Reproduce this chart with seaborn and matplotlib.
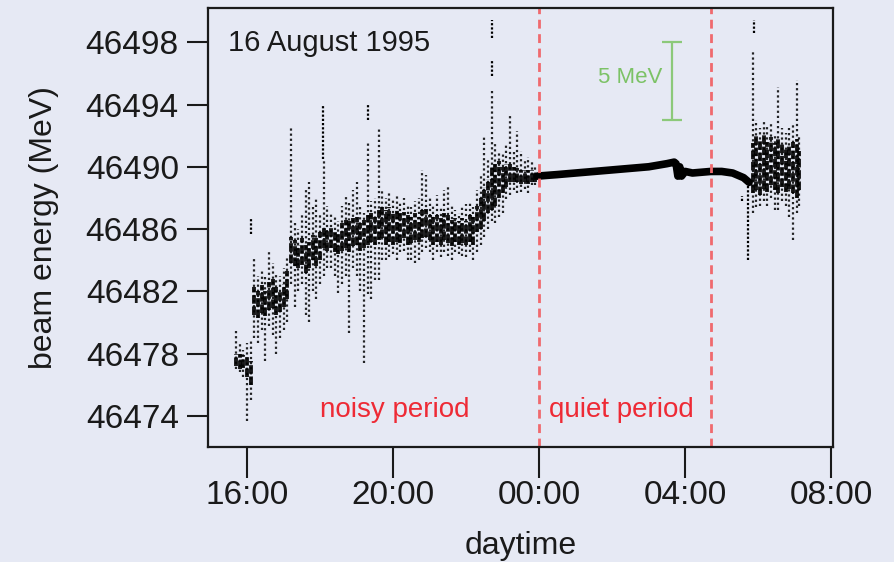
import matplotlib
matplotlib.use("Agg")
import matplotlib.pyplot as plt
import pandas as pd
import seaborn as sns

# LEP beam energy record, 16-17 August 1995.
# Time in hours from midnight of 16 August (24+ = next morning).
# Each row of the noisy stretches: (time, dense core low, dense core high,
#                                   full spread low, full spread high) in MeV
start_cluster = [
    (15.70, 46477.2, 46478.0, 46477.0, 46479.6),
    (15.80, 46477.0, 46478.0, 46476.8, 46478.6),
    (15.90, 46477.1, 46477.9, 46476.5, 46478.2),
    (16.00, 46476.5, 46477.8, 46473.7, 46478.7),
    (16.10, 46476.0, 46477.5, 46475.0, 46478.8),
]
second_cluster = [
    (16.20, 46480.5, 46482.3, 46479.0, 46484.2),
    (16.30, 46480.3, 46482.0, 46478.7, 46483.0),
    (16.40, 46480.6, 46482.4, 46479.5, 46483.4),
    (16.50, 46480.4, 46482.0, 46477.5, 46483.0),
    (16.60, 46480.8, 46482.6, 46479.8, 46484.5),
    (16.70, 46480.9, 46482.8, 46479.2, 46483.8),
    (16.80, 46480.5, 46482.3, 46478.0, 46483.2),
    (16.90, 46480.7, 46482.0, 46479.0, 46483.0),
    (17.00, 46481.0, 46482.5, 46479.5, 46483.5),
    (17.10, 46481.5, 46483.3, 46480.0, 46484.2),
]
third_cluster = [
    (17.20, 46483.8, 46485.5, 46482.5, 46492.5),
    (17.30, 46483.6, 46485.3, 46481.0, 46486.5),
    (17.40, 46483.5, 46485.0, 46482.0, 46486.0),
    (17.50, 46483.7, 46485.4, 46482.5, 46487.0),
    (17.60, 46483.2, 46485.0, 46480.5, 46488.5),
    (17.70, 46483.5, 46485.2, 46480.0, 46489.0),
    (17.80, 46484.0, 46485.6, 46482.0, 46487.5),
    (17.90, 46483.6, 46485.4, 46481.5, 46488.0),
    (18.00, 46484.0, 46485.8, 46482.5, 46487.0),
]
evening_plateau = [
    (18.10, 46484.8, 46486.2, 46483.0, 46490.5),
    (18.20, 46484.6, 46486.0, 46483.5, 46487.5),
    (18.30, 46484.8, 46486.2, 46483.5, 46487.0),
    (18.40, 46484.5, 46485.9, 46483.0, 46486.8),
    (18.50, 46484.4, 46485.8, 46481.9, 46486.5),
    (18.60, 46484.6, 46486.4, 46482.5, 46487.5),
    (18.70, 46484.8, 46486.6, 46483.0, 46488.1),
    (18.80, 46484.5, 46486.5, 46479.3, 46487.8),
    (18.90, 46484.9, 46486.7, 46483.5, 46488.5),
    (19.00, 46485.0, 46486.8, 46483.0, 46489.0),
    (19.10, 46484.6, 46486.4, 46482.0, 46487.5),
    (19.20, 46484.8, 46486.6, 46477.4, 46487.0),
    (19.30, 46485.0, 46486.9, 46481.8, 46491.5),
    (19.40, 46485.2, 46487.0, 46481.5, 46487.8),
    (19.50, 46485.0, 46486.8, 46482.7, 46488.0),
    (19.60, 46485.3, 46487.2, 46482.7, 46492.5),
    (19.70, 46485.4, 46487.4, 46484.0, 46488.5),
    (19.80, 46485.0, 46487.2, 46484.0, 46488.0),
    (19.90, 46485.2, 46487.4, 46484.2, 46488.3),
    (20.00, 46485.0, 46487.0, 46484.4, 46488.0),
    (20.10, 46485.2, 46487.3, 46484.0, 46488.2),
    (20.20, 46485.1, 46487.0, 46484.5, 46487.8),
    (20.30, 46485.4, 46487.1, 46484.6, 46488.0),
    (20.40, 46485.0, 46486.9, 46484.0, 46487.6),
    (20.50, 46485.1, 46486.8, 46484.0, 46487.4),
    (20.60, 46485.3, 46487.0, 46483.8, 46487.8),
    (20.70, 46485.2, 46486.8, 46484.0, 46488.0),
    (20.80, 46485.4, 46487.2, 46484.5, 46489.8),
    (20.90, 46485.5, 46487.3, 46484.8, 46489.5),
    (21.00, 46485.3, 46486.9, 46484.5, 46488.0),
]
late_plateau = [
    (21.10, 46485.0, 46486.8, 46484.0, 46487.5),
    (21.20, 46485.2, 46486.9, 46484.5, 46488.2),
    (21.30, 46485.0, 46486.7, 46484.2, 46487.5),
    (21.40, 46485.3, 46487.0, 46484.5, 46488.5),
    (21.50, 46485.1, 46486.9, 46484.3, 46488.7),
    (21.60, 46484.9, 46486.6, 46484.0, 46487.6),
    (21.70, 46485.2, 46486.7, 46484.5, 46487.2),
    (21.80, 46485.0, 46486.5, 46484.4, 46487.0),
    (21.90, 46485.1, 46486.7, 46484.3, 46487.5),
    (22.00, 46485.0, 46486.5, 46484.2, 46487.6),
    (22.10, 46485.2, 46486.9, 46484.5, 46487.8),
    (22.20, 46485.0, 46486.8, 46484.0, 46487.4),
]
night_rise = [
    (22.30, 46485.8, 46487.5, 46484.5, 46488.5),
    (22.40, 46486.0, 46488.0, 46485.0, 46489.5),
    (22.50, 46486.5, 46488.7, 46485.5, 46491.9),
    (22.60, 46487.0, 46489.2, 46486.0, 46490.5),
    (22.70, 46487.2, 46490.0, 46486.5, 46494.9),
    (22.80, 46487.5, 46490.2, 46486.4, 46491.5),
    (22.90, 46488.0, 46490.4, 46486.8, 46491.0),
    (23.00, 46488.3, 46490.0, 46487.0, 46490.8),
    (23.10, 46488.7, 46490.2, 46487.9, 46491.5),
    (23.20, 46489.0, 46490.2, 46488.2, 46493.4),
    (23.30, 46489.0, 46490.0, 46488.5, 46491.0),
    (23.40, 46489.0, 46489.9, 46488.3, 46492.3),
    (23.50, 46488.9, 46489.8, 46488.4, 46491.0),
    (23.60, 46489.0, 46489.8, 46488.6, 46490.5),
    (23.70, 46488.9, 46489.8, 46488.3, 46490.6),
    (23.80, 46489.0, 46489.8, 46488.8, 46490.4),
    (23.90, 46489.0, 46489.7, 46488.8, 46490.0),
]
morning_noise = [
    (29.85, 46488.3, 46491.5, 46487.0, 46497.5),
    (29.95, 46488.5, 46492.0, 46487.4, 46493.0),
    (30.05, 46488.2, 46491.8, 46487.5, 46492.5),
    (30.15, 46488.6, 46492.2, 46487.8, 46493.0),
    (30.25, 46488.4, 46491.6, 46487.5, 46492.6),
    (30.35, 46488.8, 46491.9, 46488.0, 46492.8),
    (30.45, 46488.5, 46491.5, 46487.2, 46492.0),
    (30.55, 46488.3, 46491.8, 46487.2, 46495.1),
    (30.65, 46488.7, 46491.5, 46487.8, 46492.5),
    (30.75, 46488.4, 46491.2, 46487.5, 46492.2),
    (30.85, 46488.6, 46491.4, 46486.8, 46492.5),
    (30.95, 46488.3, 46491.6, 46485.3, 46492.8),
    (31.05, 46488.0, 46491.8, 46487.0, 46495.6),
    (31.12, 46488.5, 46491.0, 46487.5, 46492.0),
]

# isolated excursions detached from the main band: (time, low, high)
excursions = [
    (16.12, 46485.7, 46486.7),
    (18.08, 46490.5, 46494.0),
    (19.30, 46493.0, 46494.0),
    (22.70, 46495.8, 46496.8),
    (22.70, 46498.3, 46499.4),
    (29.55, 46487.8, 46488.1),
    (29.72, 46484.0, 46489.0),
    (29.88, 46498.6, 46499.4),
]

# steady running between the two checks
quiet_time = [23.95, 24.5, 25.0, 25.5, 26.0, 26.5, 27.0, 27.5, 27.7,
              27.75, 27.8, 27.85, 27.9, 28.0, 28.2, 28.7, 29.0, 29.3,
              29.6, 29.75]
quiet_energy = [46489.4, 46489.5, 46489.6, 46489.7, 46489.8, 46489.9,
                46490.0, 46490.2, 46490.3, 46490.2, 46489.4, 46490.0,
                46489.4, 46489.7, 46489.6, 46489.7, 46489.7, 46489.6,
                46489.3, 46489.0]

period_marks = [24.0, 28.71]
x_ticks = [16, 20, 24, 28, 32]
x_tick_labels = ["16:00", "20:00", "00:00", "04:00", "08:00"]
y_ticks = [46474, 46478, 46482, 46486, 46490, 46494, 46498]

cols = ["time", "core_lo", "core_hi", "spread_lo", "spread_hi"]
bins = pd.DataFrame(start_cluster + second_cluster + third_cluster +
                    evening_plateau + late_plateau + night_rise +
                    morning_noise, columns=cols)
spikes = pd.DataFrame(excursions, columns=["time", "lo", "hi"])
quiet = pd.DataFrame({"time": quiet_time, "energy": quiet_energy})

BG = "#e6e9f4"
INK = "#1a1a1a"
sns.set_theme(style="ticks")
plt.rcParams["font.family"] = ["Liberation Sans", "DejaVu Sans"]

fig = plt.figure(figsize=(8.94, 5.62), dpi=100, facecolor=BG)
ax = fig.add_axes([0.2327, 0.2046, 0.6991, 0.7812], facecolor=BG)

# sparse outer spread, then the dense core of each time slice
ax.vlines(bins["time"], bins["spread_lo"], bins["spread_hi"], colors="black",
          linewidth=1.6, linestyles=(0, (1.0, 1.3)), alpha=0.85)
ax.vlines(bins["time"], bins["core_lo"], bins["core_hi"], colors="black",
          linewidth=2.8, linestyles=(0, (2.2, 0.7)), alpha=0.9)
ax.vlines(spikes["time"], spikes["lo"], spikes["hi"], colors="black",
          linewidth=1.6, linestyles=(0, (1.0, 0.9)))

sns.lineplot(data=quiet, x="time", y="energy", ax=ax, color="black",
             linewidth=5.5, sort=False)

for xm in period_marks:
    ax.axvline(xm, color="#f06a6e", linewidth=2.0, linestyle=(0, (3.2, 2.0)))

# 5 MeV scale bar
ax.errorbar([27.64], [46495.5], yerr=[[2.5], [2.5]], fmt="none",
            ecolor="#8cc97a", elinewidth=1.6, capsize=7, capthick=1.6)
ax.text(27.37, 46495.75, "5 MeV", color="#7cc266", fontsize=16,
        ha="right", va="center")

ax.text(0.032, 0.920, "16 August 1995", transform=ax.transAxes,
        fontsize=21, color=INK, ha="left", va="center")
ax.text(20.05, 46474.4, "noisy period", color="#ee2a35", fontsize=20,
        ha="center", va="center")
ax.text(26.25, 46474.4, "quiet period", color="#ee2a35", fontsize=20,
        ha="center", va="center")

ax.set_xlim(14.93, 32.05)
ax.set_ylim(46472.0, 46500.2)
ax.set_xticks(x_ticks)
ax.set_xticklabels(x_tick_labels)
ax.set_yticks(y_ticks)
ax.set_yticklabels([str(v) for v in y_ticks])

ax.set_xlabel("daytime", fontsize=23, color=INK, labelpad=14)
ax.set_ylabel("beam energy (MeV)", fontsize=23, color=INK, labelpad=19)

ax.tick_params(axis="y", direction="out", length=15, width=1.5,
               labelsize=24, pad=6, colors=INK)
ax.tick_params(axis="x", direction="out", length=22, width=1.5,
               labelsize=24, pad=2, colors=INK)
for side in ["left", "right", "top", "bottom"]:
    ax.spines[side].set_visible(True)
    ax.spines[side].set_linewidth(1.6)
    ax.spines[side].set_color(INK)

fig.savefig("out.png", dpi=100, facecolor=BG)
